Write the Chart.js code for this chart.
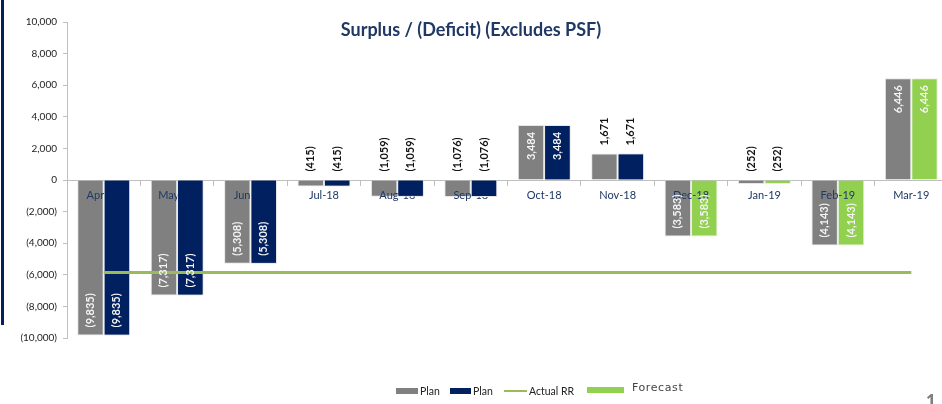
<!DOCTYPE html>
<html>
<head>
<meta charset="utf-8">
<script src="https://cdn.jsdelivr.net/npm/chart.js@4"></script>
<style>
    html, body { margin: 0; padding: 0; background: #fff; overflow: hidden; }
    #wrap { position: relative; width: 942px; height: 404px; overflow: hidden; }
    #surplus-chart { position: absolute; left: 0; top: 0; }
    #left-bar { position: absolute; left: 1px; top: 0; width: 3px; height: 325px; background: #002060; }
    #title { position: absolute; left: 0; width: 942px; top: 18px; text-align: center;
        font: bold 18px Lato, sans-serif; color: #1F3864; }
    #legend { position: absolute; top: 383px; left: 0; width: 942px; height: 20px;
        font: 10.5px Lato, sans-serif; color: #222; }
    .leg { position: absolute; top: 2px; display: flex; align-items: center; white-space: nowrap; }
    .swatch { display: inline-block; margin-right: 2px; }
    #page-no { position: absolute; left: 926px; top: 389px; font: bold 17px "Open Sans", sans-serif; color: #7f7f7f; }
</style>
</head>
<body>
<div id="wrap">
    <canvas id="surplus-chart" width="950" height="404"></canvas>
    <div id="left-bar"></div>
    <div id="title">Surplus / (Deficit) (Excludes PSF)</div>
    <div id="legend"></div>
    <div id="page-no">1</div>
</div>
<script>
// Dados do gráfico
const months = ['Apr-18', 'May-18', 'Jun-18', 'Jul-18', 'Aug-18', 'Sep-18', 'Oct-18', 'Nov-18', 'Dec-18', 'Jan-19', 'Feb-19', 'Mar-19'];
const planGrey = [-9835, -7317, -5308, -415, -1059, -1076, 3484, 1671, -3583, -252, -4143, 6446];
const planNavy = [-9835, -7317, -5308, -415, -1059, -1076, 3484, 1671, null, null, null, null];
const forecast = [null, null, null, null, null, null, null, null, -3583, -252, -4143, 6446];
const actualRR = [-5850, -5850, -5850, -5850, -5850, -5850, -5850, -5850, -5850, -5850, -5850, -5850];
const yTicks = [-10000, -8000, -6000, -4000, -2000, 0, 2000, 4000, 6000, 8000, 10000];

function fmt(v) {
    const s = Math.abs(v).toLocaleString('en-US');
    return v < 0 ? '(' + s + ')' : s;
}

// Rótulos do eixo X: por cima das barras cinza/verde, por baixo das azuis
const axisLabels = {
    id: 'axisLabels',
    afterDatasetDraw(chart, args) {
        if (args.index !== 0) return; // cinza é a última barra desenhada
        const ctx = chart.ctx;
        const xs = chart.scales.x;
        const y0 = chart.scales.y.getPixelForValue(0);
        ctx.save();
        ctx.font = '11px Lato, sans-serif';
        ctx.fillStyle = '#1F3864';
        ctx.textAlign = 'center';
        ctx.textBaseline = 'middle';
        chart.data.labels.forEach((lbl, i) => {
            ctx.fillText(lbl, xs.getPixelForTick(i), y0 + 15);
        });
        // redesenhar as barras azuis por cima dos rótulos
        chart.getDatasetMeta(1).data.forEach(el => {
            if (!isNaN(el.y)) el.draw(ctx);
        });
        ctx.restore();
    }
};

// Rótulos verticais nas barras
const barLabels = {
    id: 'barLabels',
    afterDatasetsDraw(chart) {
        const ctx = chart.ctx;
        ctx.save();
        ctx.font = 'bold 11px Lato, sans-serif';
        ctx.textBaseline = 'middle';
        chart.data.datasets.forEach((ds, di) => {
            if (ds.type === 'line') return;
            const meta = chart.getDatasetMeta(di);
            meta.data.forEach((bar, i) => {
                const v = ds.data[i];
                if (v === null || v === undefined) return;
                const txt = fmt(v);
                const inside = Math.abs(v) >= 3000;
                let yPos, align;
                if (inside) {
                    ctx.fillStyle = '#f4f4f4';
                    if (v > 0) { yPos = bar.y + 7; align = 'right'; }
                    else { yPos = bar.y - 8; align = 'left'; }
                } else {
                    ctx.fillStyle = '#111';
                    align = 'left';
                    yPos = v > 0 ? bar.y - 8 : bar.base - 9;
                }
                ctx.save();
                ctx.translate(bar.x, yPos);
                ctx.rotate(-Math.PI / 2);
                ctx.textAlign = align;
                ctx.fillText(txt, 0, 0);
                ctx.restore();
            });
        });
        ctx.restore();
    }
};

const ctx = document.getElementById('surplus-chart').getContext('2d');
const surplusChart = new Chart(ctx, {
    type: 'bar',
    data: {
        labels: months,
        datasets: [
            {
                label: 'Plan',
                data: planGrey,
                backgroundColor: '#808080',
                borderColor: '#e6e6e6',
                borderWidth: 1,
                stack: 'a',
                order: 1
            },
            {
                label: 'Plan',
                data: planNavy,
                backgroundColor: '#002060',
                borderColor: '#e6e6e6',
                borderWidth: 1,
                stack: 'b',
                order: 1
            },
            {
                type: 'line',
                label: 'Actual RR',
                data: actualRR,
                borderColor: '#9BBB59',
                borderWidth: 3,
                pointRadius: 0,
                fill: false,
                stack: 'rr',
                order: 0
            },
            {
                label: 'Forecast',
                data: forecast,
                backgroundColor: '#92D050',
                borderColor: '#e6f2da',
                borderWidth: 1,
                stack: 'b',
                order: 1
            }
        ]
    },
    options: {
        responsive: false,
        animation: false,
        categoryPercentage: 0.72,
        barPercentage: 1,
        layout: { padding: { top: 22, bottom: 66, left: 0, right: 2 } },
        plugins: {
            legend: { display: false },
            tooltip: { enabled: false },
            title: { display: false }
        },
        scales: {
            x: {
                stacked: true,
                position: { y: 0 },
                grid: {
                    offset: true,
                    drawOnChartArea: false,
                    drawTicks: true,
                    tickLength: 5,
                    color: '#bfbfbf'
                },
                border: { color: '#bfbfbf', width: 1 },
                ticks: { display: false, autoSkip: false }
            },
            y: {
                stacked: true,
                min: -10000,
                max: 10000,
                afterFit(scale) { scale.width = 67; },
                afterBuildTicks(scale) { scale.ticks = yTicks.map(v => ({ value: v })); },
                grid: {
                    drawOnChartArea: false,
                    tickLength: 4,
                    color: '#bfbfbf'
                },
                border: { color: '#bfbfbf', width: 1 },
                ticks: {
                    color: '#222',
                    font: { family: 'Lato', size: 10 },
                    padding: 6,
                    callback: v => fmt(v)
                }
            }
        }
    },
    plugins: [axisLabels, barLabels]
});

// Legenda em HTML
const legendItems = [
    { ds: 0, left: 396, sw: 'box', w: 22 },
    { ds: 1, left: 450, sw: 'box', w: 21 },
    { ds: 2, left: 504, sw: 'line', w: 23 },
    { ds: 3, left: 587, sw: 'box', w: 37 }
];
const legendEl = document.getElementById('legend');
legendItems.forEach(item => {
    const ds = surplusChart.data.datasets[item.ds];
    const el = document.createElement('div');
    el.className = 'leg';
    el.style.left = item.left + 'px';
    const sw = document.createElement('span');
    sw.className = 'swatch';
    sw.style.width = item.w + 'px';
    if (item.sw === 'line') {
        sw.style.height = '2px';
        sw.style.background = ds.borderColor;
    } else {
        sw.style.height = '6px';
        sw.style.background = ds.backgroundColor;
    }
    const label = document.createElement('span');
    label.textContent = ds.label;
    if (ds.label === 'Forecast') {
        sw.style.marginRight = '8px';
        label.style.font = '11px "DejaVu Sans", sans-serif';
        label.style.letterSpacing = '0.6px';
        label.style.color = '#444';
        label.style.marginTop = '-4px';
    }
    el.appendChild(sw);
    el.appendChild(label);
    legendEl.appendChild(el);
});
</script>
</body>
</html>
